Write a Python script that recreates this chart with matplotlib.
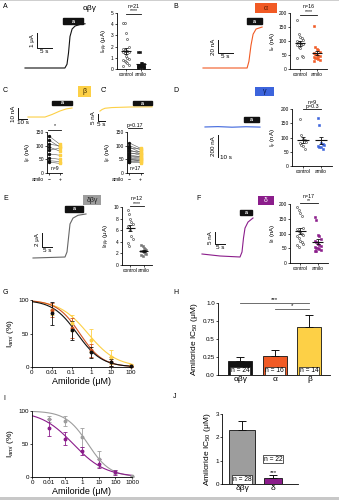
import matplotlib
matplotlib.use('Agg')
import matplotlib.pyplot as plt
from matplotlib.patches import Rectangle
import numpy as np

plt.rcParams['font.family'] = ['Liberation Sans', 'DejaVu Sans']
plt.rcParams['mathtext.fontset'] = 'custom'
plt.rcParams['mathtext.rm'] = 'Liberation Sans'
plt.rcParams['mathtext.it'] = 'Liberation Sans:italic'
plt.rcParams['axes.linewidth'] = 0.6

BLACK = '#111111'
ORANGE = '#f15a24'
ORANGE_DK = '#d4521f'
YELLOW = '#fdd046'
BLUE = '#3c64dc'
GREY = '#9d9d9d'
PURPLE = '#8b1d8b'

# ---- current traces (time s, current) ----
tr_a_t = [0, 13.3, 14.0, 14.5, 15.0, 15.7, 16.7, 18.3, 20.0]
tr_a_i = [0, 0, 0.25, 1.0, 2.1, 2.6, 2.8, 2.9, 2.95]            # uA
tr_b_t = [0, 14.7, 15.3, 16.0, 16.7, 17.7, 19.7]
tr_b_i = [0, 0, 10, 35, 52, 60, 63]                              # nA
tr_c_t = [11.1, 30.0, 37.8, 46.7, 53.3, 60.0]
tr_c_i = [1.8, 1.8, 4.1, 7.3, 9.1, 10.0]                         # nA
tr_c2_t = [1.4, 2.9, 5.0, 10.0, 22.9, 38.6]
tr_c2_i = [7.1, 8.2, 9.1, 9.6, 10.0, 10.1]                       # nA
tr_d_t = [-18.6, 0, 20, 40, 60]
tr_d_i = [273, 276, 271, 275, 272]                               # nA
tr_e_t = [0, 16, 17, 17.75, 18.5, 20, 22.5, 26.5]
tr_e_i = [0, 0.14, 0.86, 2.86, 4.86, 5.7, 6.1, 6.29]             # uA
tr_f_t = [0, 9, 19, 20, 20.75, 21.5, 23, 25.5]
tr_f_i = [0, -0.83, -1.25, 0.83, 6.67, 10.8, 13.3, 15.0]         # nA

# ---- single-cell currents, control vs amiloride ----
a_ctrl = [4.1, 4.1, 3.2, 2.7, 2.0, 1.8, 1.7, 1.6, 1.6, 1.5, 1.5, 1.4, 1.2, 1.0,
          0.9, 0.8, 0.7, 0.6, 0.5, 0.4, 0.3]
a_amil = [1.5, 1.5, 0.5, 0.5, 0.45, 0.4, 0.4, 0.35, 0.35, 0.3, 0.3, 0.3, 0.25,
          0.25, 0.2, 0.2, 0.2, 0.15, 0.15, 0.1, 0.1]
b_ctrl = [175, 125, 115, 110, 105, 100, 95, 92, 90, 88, 85, 80, 75, 45, 42, 40]
b_amil = [155, 78, 72, 68, 62, 58, 55, 50, 48, 45, 42, 40, 38, 35, 33, 30]
d_ctrl = [165, 110, 95, 90, 85, 80, 75, 70, 60]
d_amil = [168, 145, 80, 78, 75, 70, 68, 65, 60]
e_ctrl = [9.5, 8.8, 8.0, 7.5, 7.0, 6.8, 6.5, 6.0, 5.0, 4.5, 3.8, 3.2]
e_amil = [3.5, 3.2, 3.0, 2.8, 2.6, 2.5, 2.4, 2.2, 2.0, 1.9, 1.8, 1.5]
f_ctrl = [190, 180, 170, 160, 120, 115, 110, 105, 100, 95, 90, 85, 75, 70, 65, 60, 55]
f_amil = [155, 145, 95, 90, 80, 75, 70, 65, 60, 58, 55, 52, 50, 48, 45, 42, 40]

# paired beta currents (C, C')
c_before = [135, 120, 105, 95, 85, 70, 55, 45, 40]
c_after = [105, 95, 100, 80, 90, 65, 50, 42, 35]
c2_before = [110, 100, 95, 90, 85, 80, 75, 70, 65, 60, 58, 55, 50, 48, 45, 42, 40]
c2_after = [90, 85, 75, 88, 70, 80, 65, 72, 60, 55, 62, 50, 45, 52, 40, 48, 38]

# ---- amiloride dose response ----
conc_g = [0.01, 0.1, 1, 10, 100]
g_abg = [80, 55, 22, 7, 1]
g_abg_err = [17, 14, 8, 5, 1]
g_a = [85, 58, 25, 8, 1]
g_a_err = [10, 15, 10, 7, 1]
g_b = [85, 65, 40, 15, 3]
g_b_err = [8, 12, 17, 10, 2]
fit_g = {'abg': (0.19, 0.7), 'a': (0.26, 0.75), 'b': (0.67, 0.6)}

conc_i = [0.01, 0.1, 1, 10, 100, 1000]
i_dbg = [88, 85, 60, 27, 8, 1]
i_dbg_err = [4, 7, 15, 12, 3, 1]
conc_i_d = [0.01, 0.1, 1, 10, 100]
i_d = [75, 58, 40, 20, 7]
i_d_err = [13, 10, 6, 7, 4]
fit_i = {'dbg': (2.3, 0.65), 'd': (0.3, 0.45)}

# ---- IC50 bars ----
h_labels = ['αβγ', 'α', 'β']
h_ic50 = [0.19, 0.26, 0.67]
h_sem = [0.06, 0.09, 0.16]
h_n = [24, 16, 14]
j_labels = ['δβγ', 'δ']
j_ic50 = [2.3, 0.27]
j_sem = [0.42, 0.11]
j_n = [28, 22]

W, H = 339, 500
fig = plt.figure(figsize=(W / 100, H / 100), dpi=100)


def px_ax(x0, y0, x1, y1):
    return fig.add_axes([x0 / W, 1 - y1 / H, (x1 - x0) / W, (y1 - y0) / H])


def trace_ax(x0, y0, x1, y1, ox, oy, kx, ky):
    # axes whose data units map to a fixed pixel scale
    ax = px_ax(x0, y0, x1, y1)
    ax.set_xlim((x0 - ox) / kx, (x1 - ox) / kx)
    ax.set_ylim((oy - y1) / ky, (oy - y0) / ky)
    ax.axis('off')
    return ax


def stim(ax, t0, t1, i0, i1):
    ax.add_patch(Rectangle((t0, i0), t1 - t0, i1 - i0, color=BLACK, clip_on=False, zorder=5))
    ax.text((t0 + t1) / 2, (i0 + i1) / 2, 'a', color='white', fontsize=4,
            ha='center', va='center', fontweight='bold', zorder=6)


def scalebar(ax, t, i, dt, di, tlab, ilab, tlab_right=False):
    ax.plot([t, t, t + dt], [i + di, i, i], color=BLACK, lw=0.7, clip_on=False)
    ax.annotate(ilab, (t, i + di / 2), xytext=(-1.2, 0), textcoords='offset points',
                rotation=90, ha='right', va='center', fontsize=4.5)
    if tlab_right:
        ax.annotate(tlab, (t + dt, i), xytext=(1.5, 0), textcoords='offset points',
                    ha='left', va='center', fontsize=4.5)
    else:
        ax.annotate(tlab, (t + dt / 2, i), xytext=(0, -1), textcoords='offset points',
                    ha='center', va='top', fontsize=4.5)


def tag(x0, y0, x1, y1, text, fc, tc):
    fig.patches.append(Rectangle((x0 / W, 1 - y1 / H), (x1 - x0) / W, (y1 - y0) / H,
                                 transform=fig.transFigure, fc=fc, ec='none'))
    fig.text((x0 + x1) / 2 / W, 1 - (y0 + y1) / 2 / H, text, color=tc, fontsize=5,
             ha='center', va='center')


def style(ax, size=3.5):
    ax.spines[['top', 'right']].set_visible(False)
    ax.tick_params(labelsize=size, length=1.5, width=0.5, pad=0.8)


def spread(n):
    return np.array([((k % 5) - 2) * 0.09 for k in range(n)])


def dot_panel(box, ctrl, amil, col, ylim, ticks, ylabel, notes, line_py):
    x0, y0, x1, y1 = box
    ax = px_ax(*box)
    groups = [(ctrl, 'white', '#333333', 'o'), (amil, col, col, 's')]
    for k, (vals, face, edge, mk) in enumerate(groups):
        vals = np.asarray(vals, float)
        ax.scatter(k + spread(len(vals)), vals, s=2.2, marker=mk, facecolor=face,
                   edgecolor=edge, linewidth=0.4, zorder=3, clip_on=False)
        m = vals.mean()
        sem = vals.std(ddof=1) / np.sqrt(len(vals))
        ax.hlines(m, k - 0.32, k + 0.32, color=BLACK, lw=0.8, zorder=4)
        ax.errorbar(k, m, yerr=sem, color=BLACK, lw=0.6, capsize=1.3, capthick=0.6, zorder=4)
    ax.set_xlim(-0.6, 1.6)
    ax.set_ylim(*ylim)
    ax.set_yticks(ticks)
    ax.set_xticks([0, 1], ['control', 'amilo'])
    style(ax)
    ax.set_ylabel(ylabel, fontsize=4.5, labelpad=1)
    fy = lambda py: (y1 - py) / (y1 - y0)
    ax.plot([0, 1], [fy(line_py)] * 2, color=BLACK, lw=0.6, clip_on=False,
            transform=ax.get_xaxis_transform())
    for txt, py in notes:
        ax.text(0.5, fy(py), txt, fontsize=3.8, ha='center', va='center',
                transform=ax.get_xaxis_transform(), clip_on=False)
    return ax


def paired_panel(box, before, after, col, notes, line_py, n_txt):
    x0, y0, x1, y1 = box
    ax = px_ax(*box)
    for b, a in zip(before, after):
        ax.plot([0, 1], [b, a], color='#555555', lw=0.4, zorder=2)
    ax.scatter([0] * len(before), before, s=2, color=BLACK, zorder=3, clip_on=False)
    ax.scatter([1] * len(after), after, s=2, marker='s', color=col, zorder=3, clip_on=False)
    ax.set_xlim(-0.2, 1.2)
    ax.set_ylim(0, 150)
    ax.set_yticks([0, 50, 100, 150])
    ax.set_xticks([0, 1], ['', ''])
    style(ax)
    ax.set_ylabel(r'I$_{\beta}$ (nA)', fontsize=4.5, labelpad=1)
    fy = lambda py: (y1 - py) / (y1 - y0)
    tr = ax.get_xaxis_transform()
    ax.plot([-0.1, 1.1], [fy(line_py)] * 2, color=BLACK, lw=0.6, clip_on=False, transform=tr)
    for txt, py in notes:
        ax.text(0.5, fy(py), txt, fontsize=3.8, ha='center', va='center', transform=tr)
    ax.text(0.5, 0.06, n_txt, fontsize=3.6, ha='center', va='bottom', transform=tr)
    ax.text(-0.5, -0.17, 'amilo', fontsize=3.6, ha='right', va='center', transform=tr)
    ax.text(0, -0.17, '−', fontsize=3.6, ha='center', va='center', transform=tr)
    ax.text(1, -0.17, '+', fontsize=3.6, ha='center', va='center', transform=tr)
    return ax


def hill(c, ic50, h):
    return 100 / (1 + (c / ic50) ** h)


# ---------------- A ----------------
fig.text(3 / W, 1 - 6 / H, 'A', fontsize=5, va='center')
fig.text(90 / W, 1 - 9 / H, 'αβγ', fontsize=6, ha='center', va='center')
ax = trace_ax(18, 15, 92, 72, 25, 68, 3, 15)
ax.plot(tr_a_t, tr_a_i, color=BLACK, lw=0.8)
stim(ax, 12.7, 19.3, 2.93, 3.33)
scalebar(ax, 4, 1.33, 5, 1, '5 s', '1 μA')
dot_panel((117, 13, 150, 69), a_ctrl, a_amil, BLACK, (0, 5), range(6),
          r'I$_{\alpha\beta\gamma}$ (μA)', [('n=21', 6), ('****', 11)], 14)

# ---------------- B ----------------
fig.text(173 / W, 1 - 6 / H, 'B', fontsize=5, va='center')
tag(255, 3, 277, 13, 'α', ORANGE, '#5a1a00')
ax = trace_ax(198, 15, 268, 72, 203, 68, 3, 0.65)
ax.plot(tr_b_t, tr_b_i, color=ORANGE, lw=0.8)
stim(ax, 14.7, 19.7, 67.7, 76.9)
scalebar(ax, 5, 23, 5, 20, '5 s', '20 nA')
dot_panel((290, 13, 327, 69), b_ctrl, b_amil, ORANGE, (0, 200), range(0, 201, 50),
          r'I$_{\alpha}$ (nA)', [('n=16', 6), ('****', 12)], 15)

# ---------------- C / C' ----------------
fig.text(3 / W, 1 - 91 / H, 'C', fontsize=5, va='center')
fig.text(101 / W, 1 - 91 / H, "C'", fontsize=5, va='center')
tag(78, 86, 91, 97, 'β', YELLOW, '#3a2a00')
ax = trace_ax(8, 98, 76, 126, 18, 119, 0.9, 1.1)
ax.plot(tr_c_t, tr_c_i, color=YELLOW, lw=0.8)
stim(ax, 37.8, 60, 12.7, 16.4)
scalebar(ax, 0, 0, 10, 10, '10 s', '10 nA')
ax = trace_ax(88, 98, 156, 126, 98, 121, 1.4, 1.4)
ax.plot(tr_c2_t, tr_c2_i, color=YELLOW, lw=0.8)
stim(ax, 25, 38.6, 11.4, 14.3)
scalebar(ax, 0, 0, 5, 5, '5 s', '5 nA')
paired_panel((47, 132, 62, 173), c_before, c_after, YELLOW, [('*', 126)], 130, 'n=9')
paired_panel((127, 132, 143, 173), c2_before, c2_after, YELLOW, [('p=0.17', 125)], 128, 'n=17')

# ---------------- D ----------------
fig.text(173 / W, 1 - 91 / H, 'D', fontsize=5, va='center')
tag(255, 87, 274, 96, 'γ', BLUE, '#0a1a50')
ax = trace_ax(200, 110, 265, 165, 218, 157, 0.7, 0.11)
ax.plot(tr_d_t, tr_d_i, color=BLUE, lw=0.8)
stim(ax, 37, 58.6, 318, 364)
scalebar(ax, 0, 0, 0.1, 200, '10 s', '200 nA', tlab_right=True)
dot_panel((292, 109, 332, 166), d_ctrl, d_amil, BLUE, (0, 200), range(0, 201, 50),
          r'I$_{\gamma}$ (nA)', [('n=9', 102), ('p=0.3', 106)], 109)

# ---------------- E ----------------
fig.text(3 / W, 1 - 199 / H, 'E', fontsize=5, va='center')
tag(83, 195, 101, 205, 'δβγ', GREY, '#222222')
ax = trace_ax(25, 200, 92, 262, 33, 258, 2, 7)
ax.plot(tr_e_t, tr_e_i, color='#666666', lw=0.8)
stim(ax, 16, 25, 6.57, 7.43)
scalebar(ax, 4.5, 1.57, 5, 2, '5 s', '2 μA')
dot_panel((122, 207, 152, 265), e_ctrl, e_amil, '#777777', (0, 10), range(0, 11, 2),
          r'I$_{\delta\beta\gamma}$ (μA)', [('n=12', 199), ('****', 204)], 206)

# ---------------- F ----------------
fig.text(196 / W, 1 - 199 / H, 'F', fontsize=5, va='center')
tag(258, 196, 274, 205, 'δ', PURPLE, 'white')
ax = trace_ax(196, 205, 258, 262, 202, 254, 2, 2.4)
ax.plot(tr_f_t, tr_f_i, color=PURPLE, lw=0.8)
stim(ax, 19, 25, 16.25, 18.3)
scalebar(ax, 6.5, 4.17, 5, 5, '5 s', '5 nA')
dot_panel((290, 204, 328, 263), f_ctrl, f_amil, PURPLE, (0, 200), range(0, 201, 50),
          r'I$_{\delta}$ (nA)', [('n=17', 196), ('**', 201)], 203)

# ---------------- G ----------------
fig.text(3 / W, 1 - 292 / H, 'G', fontsize=5, va='center')
ax = px_ax(32, 300, 131, 367)
cx = np.logspace(-3, 2, 200)
for key, vals, err, col in [('b', g_b, g_b_err, YELLOW), ('a', g_a, g_a_err, ORANGE_DK),
                            ('abg', g_abg, g_abg_err, BLACK)]:
    ax.plot(cx, hill(cx, *fit_g[key]), color=col, lw=0.8)
    ax.errorbar(conc_g, vals, yerr=err, fmt='o', ms=1.8, color=col, lw=0.6,
                capsize=1.5, capthick=0.6, clip_on=False)
ax.set_xscale('log')
ax.set_xlim(0.001, 100)
ax.set_ylim(0, 100)
ax.set_xticks([0.001, 0.01, 0.1, 1, 10, 100], ['0', '0.01', '0.1', '1', '10', '100'])
ax.minorticks_off()
ax.set_yticks([0, 50, 100])
style(ax, 4.5)
ax.set_ylabel(r'I$_{ami}$ (%)', fontsize=6, labelpad=2)
ax.set_xlabel('Amiloride (μM)', fontsize=6.5, labelpad=1)

# ---------------- H ----------------
fig.text(173 / W, 1 - 292 / H, 'H', fontsize=5, va='center')
ax = px_ax(218, 303, 330, 375)
xh = np.arange(len(h_ic50))
ax.bar(xh, h_ic50, width=0.7, color=[BLACK, ORANGE, YELLOW], edgecolor=BLACK, lw=0.6)
ax.errorbar(xh, h_ic50, yerr=[np.zeros(len(h_sem)), h_sem], fmt='none', ecolor=BLACK,
            lw=0.7, capsize=3, capthick=0.7)
for x, n in zip(xh, h_n):
    ax.text(x, 0.01, f'n = {n}', fontsize=4.8, ha='center', va='bottom',
            bbox=dict(fc='white', ec=BLACK, lw=0.5, pad=0.5))
ax.plot([0, 2], [1.0, 1.0], color='#555555', lw=0.6, clip_on=False)
ax.text(1, 1.01, '***', fontsize=4.5, ha='center', va='bottom')
ax.plot([1, 2], [0.92, 0.92], color='#555555', lw=0.6, clip_on=False)
ax.text(1.5, 0.93, '*', fontsize=4.5, ha='center', va='bottom')
ax.set_xlim(-0.65, 2.6)
ax.set_ylim(0, 1.0)
ax.set_yticks([0, 0.25, 0.5, 0.75, 1.0], ['0.0', '0.25', '0.5', '0.75', '1.0'])
ax.set_xticks(xh, h_labels)
style(ax, 4.5)
ax.tick_params(axis='x', labelsize=6, length=0)
ax.set_ylabel(r'Amiloride IC$_{50}$ (μM)', fontsize=6, labelpad=2)

# ---------------- I ----------------
fig.text(3 / W, 1 - 398 / H, 'I', fontsize=5, va='center')
ax = px_ax(32, 411, 132, 477)
cx = np.logspace(-3, 3, 200)
for key, conc, vals, err, col in [('dbg', conc_i, i_dbg, i_dbg_err, GREY),
                                  ('d', conc_i_d, i_d, i_d_err, PURPLE)]:
    ax.plot(cx, hill(cx, *fit_i[key]), color=col, lw=0.8)
    ax.errorbar(conc, vals, yerr=err, fmt='o', ms=1.8, color=col, lw=0.6,
                capsize=1.5, capthick=0.6, clip_on=False)
ax.set_xscale('log')
ax.set_xlim(0.001, 1000)
ax.set_ylim(0, 100)
ax.set_xticks([0.001, 0.01, 0.1, 1, 10, 100, 1000],
              ['0', '0.01', '0.1', '1', '10', '100', '1000'])
ax.minorticks_off()
ax.set_yticks([0, 50, 100])
style(ax, 4.5)
ax.set_ylabel(r'I$_{ami}$ (%)', fontsize=6, labelpad=2)
ax.set_xlabel('Amiloride (μM)', fontsize=6.5, labelpad=1)

# ---------------- J ----------------
fig.text(173 / W, 1 - 396 / H, 'J', fontsize=5, va='center')
ax = px_ax(222, 414, 298, 484)
xj = np.arange(len(j_ic50))
ax.bar(xj, j_ic50, width=[0.85, 0.6], color=[GREY, PURPLE], edgecolor=BLACK, lw=0.6)
ax.errorbar(xj, j_ic50, yerr=[np.zeros(len(j_sem)), j_sem], fmt='none', ecolor=BLACK,
            lw=0.7, capsize=3, capthick=0.7)
ax.text(0, 0.04, f'n = {j_n[0]}', fontsize=4.8, ha='center', va='bottom',
        bbox=dict(fc='white', ec=BLACK, lw=0.5, pad=0.5))
ax.text(1, 0.92, f'n = {j_n[1]}', fontsize=4.8, ha='center', va='bottom',
        bbox=dict(fc='white', ec=BLACK, lw=0.5, pad=0.5))
ax.text(1, j_ic50[1] + j_sem[1] + 0.02, '***', fontsize=4.5, ha='center', va='bottom')
ax.set_xlim(-0.65, 1.8)
ax.set_ylim(0, 3)
ax.set_yticks([0, 1, 2, 3])
ax.set_xticks(xj, j_labels)
style(ax, 4.5)
ax.tick_params(axis='x', labelsize=6, length=0)
ax.set_ylabel(r'Amiloride IC$_{50}$ (μM)', fontsize=6, labelpad=2)

# page edges
fig.patches.append(Rectangle((0, 0), 1, 3 / H, transform=fig.transFigure,
                             fc='#c8c8c8', ec='none'))
fig.patches.append(Rectangle((0, 1 - 1 / H), 1, 1 / H, transform=fig.transFigure,
                             fc='#cfcfcf', ec='none'))

fig.savefig('out.png', dpi=100)
